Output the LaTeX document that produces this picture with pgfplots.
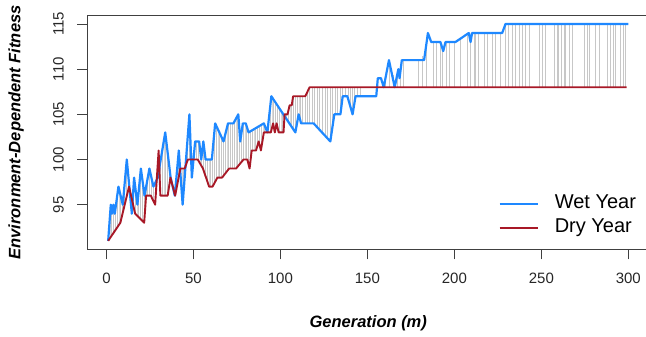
\documentclass[border=0pt]{standalone}
\usepackage{fontspec}
\setmainfont{Liberation Sans}
\usepackage{pgfplots}
\usepackage{pgfplotstable}
\pgfplotsset{compat=1.18}
\usepgfplotslibrary{fillbetween}
\usetikzlibrary{patterns.meta}
\definecolor{wetblue}{RGB}{30,136,255}
\definecolor{dryred}{RGB}{168,24,38}

\pgfplotstableread{
x y
1 91
2.5 95
3.2 94
4 95
4.8 94
6.9 97
9.4 95
11.7 100
14.6 94
15.9 98
17.8 95
19.8 99
21.9 96
24.7 99
27 97
29.5 98
33.8 103
36.9 98
39.3 96
41.6 101
43.8 95
47.7 105
49.1 98
51 102
53.3 102
54.5 100
55.7 102
57 100
60.6 100
62.5 104
67.3 102
69.9 104
73 104
75.8 105
76.9 102
78.4 104
80.1 104
81.7 103
90.5 104
92.5 103
94.8 107
108.6 103
110.5 105
111.9 104
119.1 104
128.7 102
131 105
134.5 105
135.8 107
138.5 107
141.5 105
143.2 107
155.1 107
156 109
157.8 109
159.4 108
162.4 111
165.7 108
167.8 110
168.5 109
169.8 111
182.6 111
184.8 114
186.7 113
192 113
193.6 112
194.9 113
200.6 113
208.3 114
209.3 113
210.2 114
227.5 114
229.4 115
300 115
}\wet

\pgfplotstableread{
x y
1 91
8 93
13 97
16.5 94
21.7 93
22.8 96
25.5 96
28 95
30 101
31 96
35.2 96
36.8 98
39.5 96
42.5 99
45 99
46.8 100
52.5 100
55.5 99
59 97
61 97
63.8 98
66.5 98
70.5 99
74.5 99
78.8 100
81 100
82.3 99
83.5 101
86 101
87.5 102
88.8 101
90.5 103
94.5 103
95.8 104
96.8 103
97.8 104
99 103
101.8 103
102.4 105
104.1 105
105.3 106
106.5 106
107.3 107
114.3 107
116.8 108
299 108
}\dry

\begin{document}
\begin{tikzpicture}
\begin{axis}[name=ax, set layers,
  scale only axis, width=561.9pt, height=234.2pt,
  xmin=-11, xmax=312, ymin=90.04, ymax=115.96,
  xtick={0,50,...,300}, ytick={95,100,...,115},
  tick pos=left, tick align=outside, major tick length=10pt,
  axis line style={black!75, line width=0.9pt},
  tick style={black!75, line width=0.9pt},
  /pgf/number format/assume math mode=true,
  ticklabel style={font=\fontsize{15}{18}\selectfont, text=black!85},
  yticklabel style={rotate=90, anchor=south},
  xticklabel style={anchor=north},
  xticklabel shift=10pt, yticklabel shift=10pt,
  xlabel={Generation (m)},
  ylabel={Environment-Dependent Fitness},
  every axis x label/.style={at={([yshift=-78pt]axis description cs:0.5,0)}, anchor=base, font=\fontsize{16.5}{20}\selectfont\bfseries\itshape},
  every axis y label/.style={at={([xshift=-67pt]axis description cs:0,0.5)}, rotate=90, anchor=base, font=\fontsize{16.5}{20}\selectfont\bfseries\itshape},
  unbounded coords=jump,
  legend style={draw=none, fill=none, inner sep=0pt, at={(axis cs:225.3,96.3)}, anchor=north west,
    font=\fontsize{20}{24}\selectfont, row sep=3pt,
    nodes={inner sep=1pt, text height=14.5pt, text depth=4.5pt},
    /tikz/every odd column/.append style={column sep=15pt}},
  legend image code/.code={\draw[#1] (0pt,0pt) -- (38pt,0pt);},
  legend cell align=left,
]
\addplot[draw=none, forget plot, name path=W] table {\wet};
\addplot[draw=none, forget plot, name path=D] table {\dry};
\addplot[pattern={Lines[angle=90,distance=1.8pt,line width=0.35pt]}, pattern color=black!22, forget plot]
  fill between[of=W and D, soft clip={domain=1:112}];
\addplot[black!22, line width=0.5pt, forget plot] coordinates {
(112.4,104) (112.4,107) (112.4,nan)
(114.3,104) (114.3,107) (114.3,nan)
(115.3,104) (115.3,107.4) (115.3,nan)
(116.8,104) (116.8,108) (116.8,nan)
(118.2,104) (118.2,108) (118.2,nan)
(119.5,103.9) (119.5,108) (119.5,nan)
(121.0,103.6) (121.0,108) (121.0,nan)
(122.6,103.3) (122.6,108) (122.6,nan)
(123.9,103.0) (123.9,108) (123.9,nan)
(125.8,102.6) (125.8,108) (125.8,nan)
(127.2,102.3) (127.2,108) (127.2,nan)
(128.7,102.0) (128.7,108) (128.7,nan)
(129.7,103.3) (129.7,108) (129.7,nan)
(131.6,105) (131.6,108) (131.6,nan)
(132.6,105) (132.6,108) (132.6,nan)
(134.5,105) (134.5,108) (134.5,nan)
(135.8,106.6) (135.8,108) (135.8,nan)
(137.3,107) (137.3,108) (137.3,nan)
(138.9,107) (138.9,108) (138.9,nan)
(140.2,105.9) (140.2,108) (140.2,nan)
(141.5,105) (141.5,108) (141.5,nan)
(142.5,106.2) (142.5,108) (142.5,nan)
(144.4,107) (144.4,108) (144.4,nan)
(146,107) (146,108) (146,nan)
(158.5,108) (158.5,108.6) (158.5,nan)
(160.4,108) (160.4,109) (160.4,nan)
(162.7,108) (162.7,110.8) (162.7,nan)
(164.6,108) (164.6,109.3) (164.6,nan)
(167.1,108) (167.1,109.5) (167.1,nan)
(169.0,108) (169.0,110) (169.0,nan)
(170.9,108) (170.9,111) (170.9,nan)
(179.5,108) (179.5,111) (179.5,nan)
(181.5,108) (181.5,111.5) (181.5,nan)
(184.0,108) (184.0,113) (184.0,nan)
(188.1,108) (188.1,113) (188.1,nan)
(189.6,108) (189.6,113) (189.6,nan)
(192.0,108) (192.0,113) (192.0,nan)
(193.0,108) (193.0,112.4) (193.0,nan)
(195.5,108) (195.5,113) (195.5,nan)
(196.8,108) (196.8,113) (196.8,nan)
(199.7,108) (199.7,113) (199.7,nan)
(203.5,108) (203.5,113.4) (203.5,nan)
(207.4,108) (207.4,113.9) (207.4,nan)
(209.3,108) (209.3,113) (209.3,nan)
(211.2,108) (211.2,114) (211.2,nan)
(212.1,108) (212.1,114) (212.1,nan)
(214.0,108) (214.0,114) (214.0,nan)
(216.9,108) (216.9,114) (216.9,nan)
(218.9,108) (218.9,114) (218.9,nan)
(221.7,108) (221.7,114) (221.7,nan)
(223.6,108) (223.6,114) (223.6,nan)
(226.5,108) (226.5,114) (226.5,nan)
(229.4,108) (229.4,115) (229.4,nan)
(230.7,108) (230.7,115) (230.7,nan)
(233.3,108) (233.3,115) (233.3,nan)
(235.2,108) (235.2,115) (235.2,nan)
(237.1,108) (237.1,115) (237.1,nan)
(239.0,108) (239.0,115) (239.0,nan)
(240.9,108) (240.9,115) (240.9,nan)
(242.8,108) (242.8,115) (242.8,nan)
(249.0,108) (249.0,115) (249.0,nan)
(250.5,108) (250.5,115) (250.5,nan)
(252.4,108) (252.4,115) (252.4,nan)
(257.2,108) (257.2,115) (257.2,nan)
(259.1,108) (259.1,115) (259.1,nan)
(260.0,108) (260.0,115) (260.0,nan)
(261.6,108) (261.6,115) (261.6,nan)
(262.9,108) (262.9,115) (262.9,nan)
(263.9,108) (263.9,115) (263.9,nan)
(265.8,108) (265.8,115) (265.8,nan)
(267.8,108) (267.8,115) (267.8,nan)
(274.5,108) (274.5,115) (274.5,nan)
(276.4,108) (276.4,115) (276.4,nan)
(277.3,108) (277.3,115) (277.3,nan)
(281.2,108) (281.2,115) (281.2,nan)
(283.5,108) (283.5,115) (283.5,nan)
(287.9,108) (287.9,115) (287.9,nan)
(289.8,108) (289.8,115) (289.8,nan)
(291.2,108) (291.2,115) (291.2,nan)
(292.7,108) (292.7,115) (292.7,nan)
(295.6,108) (295.6,115) (295.6,nan)
(296.9,108) (296.9,115) (296.9,nan)
(298.5,108) (298.5,115) (298.5,nan)
};
\addplot[wetblue, line width=2.2pt, line join=round] table {\wet};
\addlegendentry{Wet Year}
\addplot[dryred, line width=1.9pt, line join=round] table {\dry};
\addlegendentry{Dry Year}
\end{axis}
\pgfresetboundingbox
\path[use as bounding box] ([xshift=-87.3pt,yshift=-87.5pt]ax.south west) rectangle ([xshift=-3.2pt,yshift=15.3pt]ax.north east);
\end{tikzpicture}
\end{document}
